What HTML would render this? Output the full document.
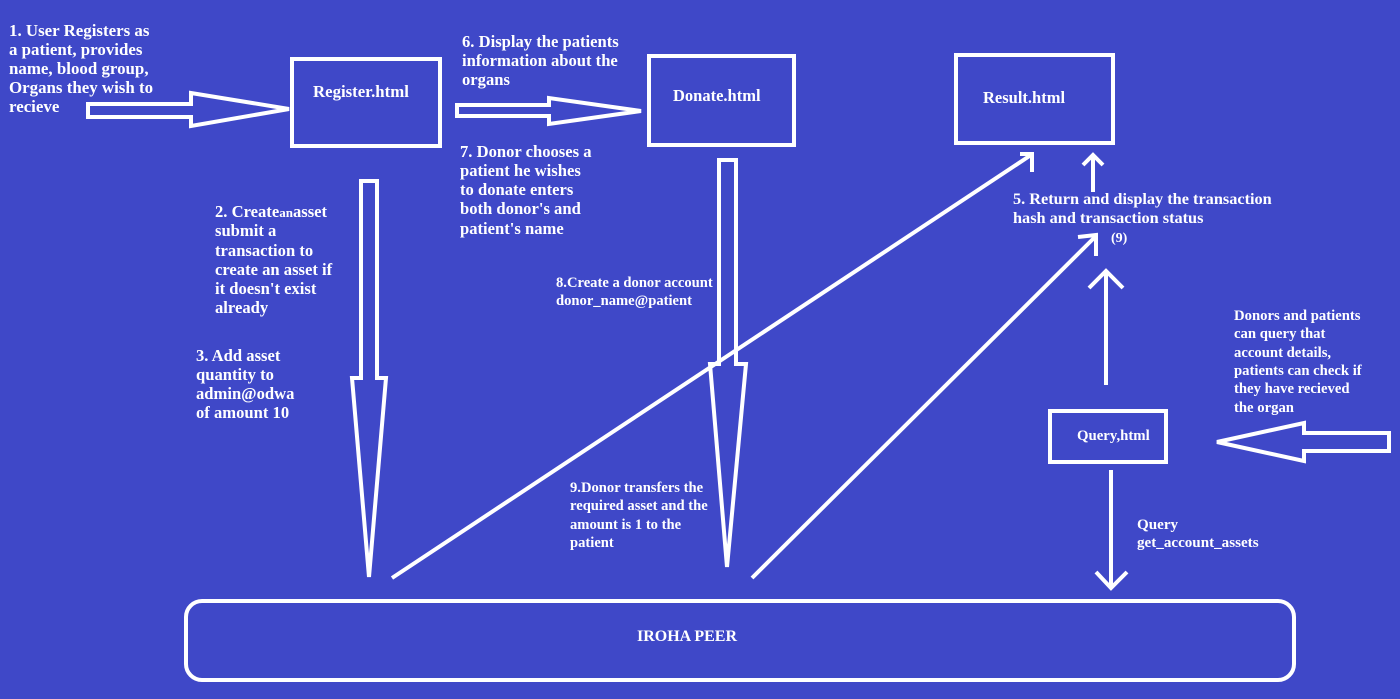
<!DOCTYPE html>
<html><head><meta charset="utf-8"><style>
html,body{margin:0;padding:0;background:#3f48c8;width:1400px;height:699px;overflow:hidden}
svg{display:block;font-size:14px}
text{font-family:"Liberation Serif",serif;font-weight:bold;fill:#fff}
</style></head><body>
<svg width="1400" height="699" viewBox="0 0 1400 699">
<rect width="1400" height="699" fill="#3f48c8"/>
<g fill="none" stroke="#fff" stroke-width="4" stroke-linejoin="miter">
<rect x="292" y="59" width="148" height="87"/>
<rect x="649" y="56" width="145" height="89"/>
<rect x="956" y="55" width="157" height="88"/>
<rect x="1050" y="411" width="116" height="51"/>
<rect x="186" y="601" width="1108" height="79" rx="16"/>
<polygon points="88,104 191,104 191,93 289,109 191,126 191,117 88,117"/>
<polygon points="457,105 549,105 549,98 641,111 549,124 549,116 457,116"/>
<polygon points="1389,433 1304,433 1304,423 1217,442 1304,461 1304,451 1389,451"/>
<polygon points="361,181 377,181 377,378 386,378 369,577 352,378 361,378"/>
<polygon points="719,160 736,160 736,364 746,364 727,567 710,364 719,364"/>
<line x1="392" y1="578" x2="1031" y2="155"/>
<polyline points="1020,154 1032,154 1032,172"/>
<line x1="752" y1="578" x2="1096" y2="236"/>
<polyline points="1078,237 1096,235 1096,256"/>
<line x1="1093" y1="192" x2="1093" y2="156"/>
<polyline points="1083,165 1093,155 1103,165"/>
<line x1="1106" y1="385" x2="1106" y2="272"/>
<polyline points="1089,288 1106,271 1123,288"/>
<line x1="1111" y1="470" x2="1111" y2="588"/>
<polyline points="1096,572 1111,588 1127,572"/>
</g>
<text x="313" y="97" font-size="16.8">Register.html</text>
<text x="673" y="101" font-size="16.5">Donate.html</text>
<text x="983" y="103" font-size="16.5">Result.html</text>
<text x="1077" y="440" font-size="14.8">Query,html</text>
<text x="637" y="641" font-size="16">IROHA PEER</text>
<g font-size="16.9">
<text x="9" y="36">1. User Registers as</text>
<text x="9" y="55">a patient, provides</text>
<text x="9" y="74">name, blood group,</text>
<text x="9" y="93">Organs they wish to</text>
<text x="9" y="112">recieve</text>
</g>
<g font-size="16.6">
<text x="462" y="47">6. Display the patients</text>
<text x="462" y="66">information about the</text>
<text x="462" y="85">organs</text>
<text x="460" y="157">7. Donor chooses a</text>
<text x="460" y="176">patient he wishes</text>
<text x="460" y="195">to donate enters</text>
<text x="460" y="214">both donor's and</text>
<text x="460" y="234">patient's name</text>
</g>
<g font-size="16.6">
<text x="215" y="217">2. Create<tspan font-size="13">an</tspan>asset</text>
<text x="215" y="236">submit a</text>
<text x="215" y="256">transaction to</text>
<text x="215" y="275">create an asset if</text>
<text x="215" y="294">it doesn't exist</text>
<text x="215" y="313">already</text>
<text x="196" y="361">3. Add asset</text>
<text x="196" y="380">quantity to</text>
<text x="196" y="399">admin@odwa</text>
<text x="196" y="418">of amount 10</text>
</g>
<g font-size="14.6">
<text x="556" y="287">8.Create a donor account</text>
<text x="556" y="305">donor_name@patient</text>
<text x="570" y="492">9.Donor transfers the</text>
<text x="570" y="510">required asset and the</text>
<text x="570" y="529">amount is 1 to the</text>
<text x="570" y="547">patient</text>
</g>
<g font-size="16.3">
<text x="1013" y="204">5. Return and display the transaction</text>
<text x="1013" y="223">hash and transaction status</text>
</g>
<text x="1111" y="242">(9)</text>
<g font-size="14.7">
<text x="1234" y="320">Donors and patients</text>
<text x="1234" y="338">can query that</text>
<text x="1234" y="357">account details,</text>
<text x="1234" y="375">patients can check if</text>
<text x="1234" y="393">they have recieved</text>
<text x="1234" y="412">the organ</text>
</g>
<g font-size="15.1">
<text x="1137" y="529">Query</text>
<text x="1137" y="547">get_account_assets</text>
</g>
</svg>
</body></html>
